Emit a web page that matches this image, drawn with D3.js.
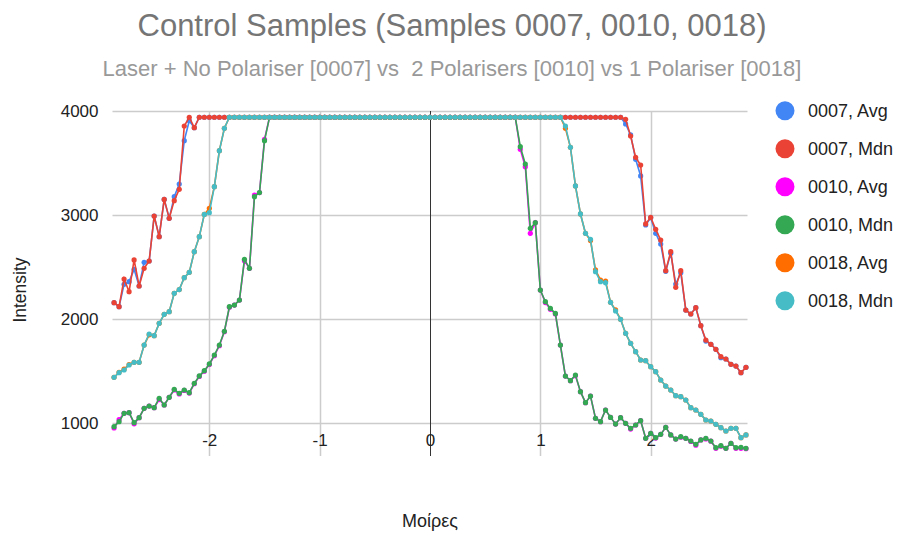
<!DOCTYPE html>
<html>
<head>
<meta charset="utf-8">
<script src="https://cdn.jsdelivr.net/npm/d3@7"></script>
<style>
  body { margin: 0; background: #fff; }
  text { font-family: "Liberation Sans", Arial, sans-serif; }
</style>
</head>
<body>
<div id="chart"></div>
<script>
// DATA //
// angle grid: 127 evenly spaced samples, centre sample at 0
const angleStart = -2.862
const angleStep = 0.04543

const plateau = 3940

const avg0007Left = [2159, 2120, 2335, 2361, 2479, 2319, 2546, 2559, 2991, 2793, 3151, 2969, 3177, 3299, 3715, 3907, 3840]
const avg0007Right = [3875, 3770, 3536, 3376, 2905, 2975, 2825, 2722, 2460, 2633, 2338, 2446, 2088, 2050, 2111, 1938, 1790, 1759, 1711, 1630, 1618, 1567, 1550, 1486, 1538]
const mdn0007Left = [2159, 2120, 2386, 2264, 2569, 2319, 2489, 2559, 2991, 2793, 3151, 2969, 3139, 3248, 3856, 3940, 3840]
const mdn0007Right = [3920, 3760, 3555, 3481, 2915, 2979, 2863, 2761, 2466, 2649, 2306, 2466, 2088, 2050, 2111, 1938, 1800, 1759, 1711, 1640, 1618, 1567, 1550, 1486, 1538]

const avg0010Left = [955, 1035, 1096, 1102, 995, 1054, 1144, 1166, 1150, 1228, 1176, 1250, 1320, 1282, 1316, 1290, 1380, 1450, 1500, 1565, 1650, 1745, 1880, 2115, 2136, 2184, 2562, 2489, 3193, 3216, 3728]
const avg0010Right = [3632, 3465, 2825, 2927, 2280, 2160, 2095, 2050, 1752, 1454, 1410, 1458, 1304, 1198, 1262, 1048, 1016, 1128, 1057, 993, 1054, 1000, 945, 984, 1025, 856, 904, 858, 894, 961, 888, 849, 866, 856, 826, 790, 840, 850, 828, 760, 780, 760, 808, 760, 760, 756]
const mdn0010Left = [968, 1016, 1096, 1102, 1006, 1054, 1144, 1166, 1150, 1240, 1176, 1250, 1326, 1288, 1320, 1294, 1384, 1455, 1506, 1570, 1656, 1752, 1884, 2120, 2136, 2184, 2575, 2489, 3177, 3216, 3715]
const mdn0010Right = [3657, 3491, 2873, 2927, 2280, 2168, 2104, 2056, 1752, 1454, 1410, 1464, 1304, 1198, 1262, 1048, 1016, 1128, 1057, 993, 1054, 1000, 952, 984, 1025, 856, 904, 862, 894, 961, 888, 849, 872, 856, 830, 798, 840, 856, 830, 766, 785, 760, 808, 766, 769, 760]

const avg0018Left = [1442, 1490, 1520, 1565, 1586, 1586, 1752, 1850, 1842, 1960, 2047, 2072, 2249, 2285, 2399, 2450, 2649, 2793, 3007, 3065, 3273, 3619, 3834]
const avg0018Right = [3834, 3651, 3280, 3011, 2825, 2755, 2473, 2375, 2365, 2162, 2090, 1999, 1864, 1768, 1688, 1608, 1602, 1544, 1496, 1416, 1358, 1320, 1265, 1256, 1224, 1150, 1128, 1086, 1032, 1022, 990, 958, 926, 952, 952, 862, 888]
const mdn0018Left = [1442, 1486, 1512, 1560, 1586, 1586, 1752, 1858, 1842, 1960, 2047, 2072, 2249, 2285, 2399, 2450, 2649, 2793, 3007, 3023, 3273, 3619, 3834]
const mdn0018Right = [3856, 3651, 3280, 3011, 2825, 2767, 2457, 2361, 2351, 2162, 2079, 1999, 1864, 1768, 1688, 1608, 1602, 1544, 1496, 1416, 1358, 1320, 1265, 1256, 1224, 1150, 1128, 1086, 1032, 1022, 990, 958, 926, 952, 952, 862, 888]

const seriesNames = ["0007, Avg", "0007, Mdn", "0010, Avg", "0010, Mdn", "0018, Avg", "0018, Mdn"]
const seriesColors = ["#4285f4", "#ea4335", "#ff00ff", "#34a853", "#ff6d01", "#46bdc6"]

const yTicks = [1000, 2000, 3000, 4000]
const xTicks = [-2, -1, 0, 1, 2]

const nPoints = 127

// left part, saturated plateau, right part
function buildSeries(left, right) {
    const flat = nPoints - left.length - right.length
    return left.concat(Array(flat).fill(plateau), right)
}

const seriesValues = [
    buildSeries(avg0007Left, avg0007Right),
    buildSeries(mdn0007Left, mdn0007Right),
    buildSeries(avg0010Left, avg0010Right),
    buildSeries(mdn0010Left, mdn0010Right),
    buildSeries(avg0018Left, avg0018Right),
    buildSeries(mdn0018Left, mdn0018Right),
]

// DIMENSIONS //
const width = 897
const height = 533

let dimensions = {
    left: 112.5,
    right: 747.5,
    top: 111,
    bottom: 456,
}

const xScale = d3.scaleLinear()
    .domain([-2.876, 2.876])
    .range([dimensions.left, dimensions.right])

const yScale = d3.scaleLinear()
    .domain([686, 4000])
    .range([dimensions.bottom, dimensions.top])

const svg = d3.select("#chart")
    .append("svg")
    .attr("width", width)
    .attr("height", height)

// titles
svg.append("text")
    .attr("x", 452)
    .attr("y", 36)
    .attr("text-anchor", "middle")
    .attr("fill", "#757575")
    .style("font-size", "31px")
    .text("Control Samples (Samples 0007, 0010, 0018)")

svg.append("text")
    .attr("x", 452)
    .attr("y", 76)
    .attr("text-anchor", "middle")
    .attr("fill", "#999999")
    .style("font-size", "22px")
    .style("white-space", "pre")
    .text("Laser + No Polariser [0007] vs  2 Polarisers [0010] vs 1 Polariser [0018]")

// gridlines
const grid = svg.append("g")

grid.selectAll(".hgrid")
    .data(yTicks)
    .join("line")
    .attr("x1", dimensions.left)
    .attr("x2", dimensions.right)
    .attr("y1", d => Math.round(yScale(d)) + 0.5)
    .attr("y2", d => Math.round(yScale(d)) + 0.5)
    .attr("stroke", "#cccccc")
    .attr("stroke-width", 1.5)

grid.selectAll(".vgrid")
    .data(xTicks)
    .join("line")
    .attr("x1", d => Math.round(xScale(d)) + 0.5)
    .attr("x2", d => Math.round(xScale(d)) + 0.5)
    .attr("y1", dimensions.top)
    .attr("y2", dimensions.bottom)
    .attr("stroke", d => d == 0 ? "#333333" : "#cccccc")
    .attr("stroke-width", d => d == 0 ? 1 : 1.5)

// axes (labels only)
const yAxis = svg.append("g")
    .attr("transform", `translate(${dimensions.left - 14},0)`)
    .call(d3.axisLeft(yScale).tickValues(yTicks).tickFormat(d3.format("d")).tickSize(0).tickPadding(0))
yAxis.select(".domain").remove()
yAxis.selectAll("text")
    .attr("fill", "#222222")
    .style("font-size", "17px")
    .style("font-family", "Liberation Sans, Arial, sans-serif")

const xAxis = svg.append("g")
    .attr("transform", `translate(0,${dimensions.bottom})`)
    .call(d3.axisBottom(xScale).tickValues(xTicks).tickFormat(d => String(d)).tickSize(0).tickPadding(0))
xAxis.select(".domain").remove()
xAxis.selectAll(".tick text")
    .attr("fill", "#222222")
    .attr("y", 446 - dimensions.bottom)
    .attr("dy", null)
    .style("font-size", "17px")
    .style("font-family", "Liberation Sans, Arial, sans-serif")

// axis titles
svg.append("text")
    .attr("transform", "translate(26,290) rotate(-90)")
    .attr("text-anchor", "middle")
    .attr("fill", "#222222")
    .style("font-size", "17.5px")
    .text("Intensity")

svg.append("text")
    .attr("x", 430)
    .attr("y", 527)
    .attr("text-anchor", "middle")
    .attr("fill", "#222222")
    .style("font-size", "18px")
    .text("Μοίρες")

// lines + points
const lineGenerator = d3.line()
    .x((d, i) => xScale(angleStart + i * angleStep))
    .y(d => yScale(d))

const seriesGroups = svg.append("g")
    .selectAll("g")
    .data(seriesValues)
    .join("g")

seriesGroups.append("path")
    .attr("d", d => lineGenerator(d))
    .attr("fill", "none")
    .attr("stroke", (d, i) => seriesColors[i])
    .attr("stroke-width", 1.6)

seriesGroups.each(function(values, k) {
    d3.select(this).selectAll("circle")
        .data(values)
        .join("circle")
        .attr("cx", (d, i) => xScale(angleStart + i * angleStep))
        .attr("cy", d => yScale(d))
        .attr("r", 2.6)
        .attr("fill", seriesColors[k])
})

// legend
const legend = svg.append("g")
    .selectAll("g")
    .data(seriesNames)
    .join("g")
    .attr("transform", (d, i) => `translate(785,${110.7 + i * 38})`)

legend.append("circle")
    .attr("r", 9.5)
    .attr("fill", (d, i) => seriesColors[i])

legend.append("text")
    .attr("x", 23)
    .attr("y", 6.5)
    .attr("fill", "#222222")
    .style("font-size", "18px")
    .text(d => d)
</script>
</body>
</html>
